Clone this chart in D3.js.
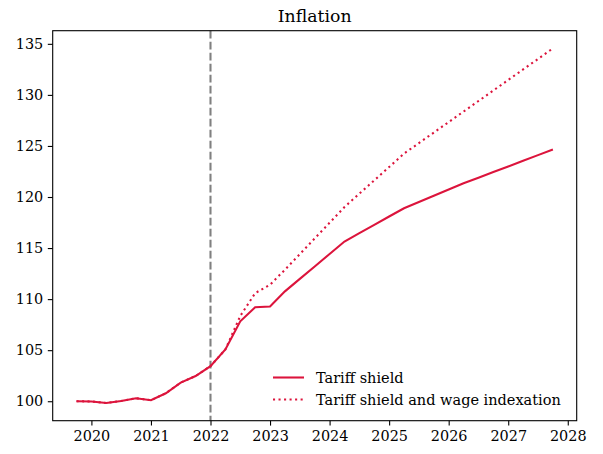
<!DOCTYPE html>
<html>
<head>
<meta charset="utf-8">
<script src="https://cdn.jsdelivr.net/npm/d3@7"></script>
<style>
  body { margin: 0; background: #fff; }
  svg { display: block; font-family: 'DejaVu Serif', serif; }
</style>
</head>
<body>
<div id="chart"></div>
<script>
// Quarterly dates (decimal years)
const quarters = [
  2019.75, 2020.0, 2020.25, 2020.5, 2020.75, 2021.0, 2021.25, 2021.5, 2021.75,
  2022.0, 2022.25, 2022.5, 2022.75, 2023.0, 2023.25, 2023.5, 2023.75, 2024.0,
  2024.25, 2024.5, 2024.75, 2025.0, 2025.25, 2025.5, 2025.75, 2026.0, 2026.25,
  2026.5, 2026.75, 2027.0, 2027.25, 2027.5, 2027.75
];

const tariffShield = [
  100.0, 99.98, 99.83, 100.03, 100.29, 100.1, 100.78, 101.82, 102.47,
  103.44, 105.07, 107.83, 109.2, 109.27, 110.76, 111.98, 113.2, 114.42,
  115.64, 116.46, 117.27, 118.09, 118.9, 119.51, 120.12, 120.73, 121.34,
  121.89, 122.44, 122.99, 123.55, 124.1, 124.65
];

const tariffShieldWage = [
  100.0, 99.98, 99.83, 100.03, 100.29, 100.1, 100.78, 101.82, 102.47,
  103.44, 105.07, 108.35, 110.59, 111.41, 112.88, 114.41, 115.95, 117.48,
  119.02, 120.33, 121.63, 122.94, 124.25, 125.28, 126.31, 127.34, 128.37,
  129.4, 130.43, 131.46, 132.49, 133.52, 134.55
];

const xTicks = [2020, 2021, 2022, 2023, 2024, 2025, 2026, 2027, 2028];
const yTicks = [100, 105, 110, 115, 120, 125, 130, 135];
const seriesNames = ['Tariff shield', 'Tariff shield and wage indexation'];
const markerYear = 2022;

const width = 603, height = 454;
const margin = { top: 30.7, right: 26.3, bottom: 33.3, left: 52.7 };
const color = '#dc143c';
const font = "'DejaVu Serif', serif";

const svg = d3.select('#chart').append('svg')
  .attr('width', width)
  .attr('height', height);

// matplotlib-style 5% padding around the data
function padded(ext) {
  const pad = (ext[1] - ext[0]) * 0.05;
  return [ext[0] - pad, ext[1] + pad];
}

const x = d3.scaleLinear()
  .domain(padded(d3.extent(quarters)))
  .range([margin.left, width - margin.right]);

const y = d3.scaleLinear()
  .domain(padded(d3.extent(tariffShield.concat(tariffShieldWage))))
  .range([height - margin.bottom, margin.top]);

// Axes
const xAxis = d3.axisBottom(x)
  .tickValues(xTicks)
  .tickFormat(d3.format('d'))
  .tickSize(4.9)
  .tickPadding(4.3);

const yAxis = d3.axisLeft(y)
  .tickValues(yTicks)
  .tickSize(4.9)
  .tickPadding(4.6);

const gx = svg.append('g')
  .attr('transform', `translate(0,${height - margin.bottom})`)
  .call(xAxis)
  .attr('font-family', font)
  .attr('font-size', 14.4);
gx.select('.domain').remove();
gx.selectAll('.tick line').attr('stroke', '#000').attr('stroke-width', 1.1);
gx.selectAll('.tick text').attr('dy', '0.76em').attr('fill', '#000');

const gy = svg.append('g')
  .attr('transform', `translate(${margin.left},0)`)
  .call(yAxis)
  .attr('font-family', font)
  .attr('font-size', 14.4);
gy.select('.domain').remove();
gy.selectAll('.tick line').attr('stroke', '#000').attr('stroke-width', 1.1);
gy.selectAll('.tick text').attr('fill', '#000');

// Vertical dashed line at 2022
svg.append('line')
  .attr('x1', x(markerYear)).attr('x2', x(markerYear))
  .attr('y1', margin.top).attr('y2', height - margin.bottom)
  .attr('stroke', '#808080')
  .attr('stroke-width', 2.08)
  .attr('stroke-dasharray', '7.7,3.3');

const line = d3.line()
  .x((d, i) => x(quarters[i]))
  .y(d => y(d));

svg.append('path')
  .datum(tariffShieldWage)
  .attr('fill', 'none')
  .attr('stroke', color)
  .attr('stroke-width', 2.08)
  .attr('stroke-dasharray', '2.08,3.44')
  .attr('d', line);

svg.append('path')
  .datum(tariffShield)
  .attr('fill', 'none')
  .attr('stroke', color)
  .attr('stroke-width', 2.08)
  .attr('d', line);

// Frame
svg.append('rect')
  .attr('x', margin.left)
  .attr('y', margin.top)
  .attr('width', width - margin.left - margin.right)
  .attr('height', height - margin.top - margin.bottom)
  .attr('fill', 'none')
  .attr('stroke', '#000')
  .attr('stroke-width', 1.1);

// Title
svg.append('text')
  .attr('x', (margin.left + width - margin.right) / 2)
  .attr('y', margin.top - 8.6)
  .attr('text-anchor', 'middle')
  .style('font-size', '17.3px')
  .text('Inflation');

// Legend
const legend = svg.append('g').attr('transform', 'translate(273,377.5)');
seriesNames.forEach((name, i) => {
  const row = legend.append('g').attr('transform', `translate(0,${i * 22})`);
  row.append('line')
    .attr('x1', 0).attr('x2', 31)
    .attr('stroke', color)
    .attr('stroke-width', 2.08)
    .attr('stroke-dasharray', i === 1 ? '2.08,3.44' : null);
  row.append('text')
    .attr('x', 43)
    .attr('dy', '0.35em')
    .style('font-size', '14.5px')
    .text(name);
});
</script>
</body>
</html>
